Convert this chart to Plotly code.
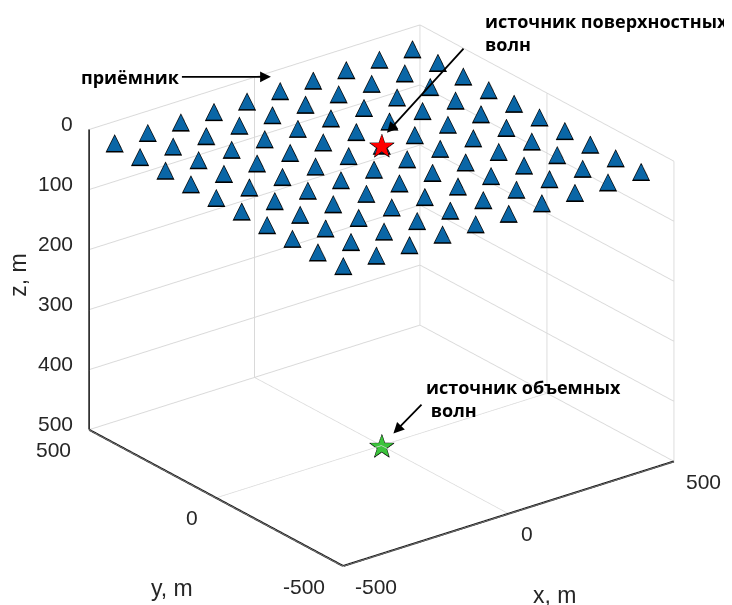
import plotly.graph_objects as go

# receiver grid node coordinates (m)
receiver_x_nodes = [-500, -400, -300, -200, -100, 0, 100, 200, 300, 400]
receiver_y_nodes = [-500, -400, -300, -200, -100, 0, 100, 200, 300, 400]
receiver_depth = 0

surface_source = [0, 0, 0]      # x, y, z
body_source = [0, 0, 500]       # x, y, z

x_range = [-500, 500]
y_range = [-500, 500]
z_range = [0, 500]
x_ticks = [-500, 0, 500]
y_ticks = [-500, 0, 500]
z_ticks = [0, 100, 200, 300, 400, 500]
x_tick_labels = ["-500", "0", "500"]
y_tick_labels = ["-500", "0", "500"]
z_tick_labels = ["0", "100", "200", "300", "400", "500"]

rx = [x for y in receiver_y_nodes for x in receiver_x_nodes]
ry = [y for y in receiver_y_nodes for x in receiver_x_nodes]
rz = [receiver_depth] * len(rx)

fig = go.Figure()

AXC = "#262626"

# axis spines (x, y along the bottom front edges; z on the left edge)
fig.add_trace(go.Scatter3d(
    x=[x_range[0], x_range[1], None, x_range[0], x_range[0], None, x_range[0], x_range[0]],
    y=[y_range[0], y_range[0], None, y_range[0], y_range[1], None, y_range[1], y_range[1]],
    z=[z_range[1], z_range[1], None, z_range[1], z_range[1], None, z_range[0], z_range[1]],
    mode="lines", line=dict(color="#1a1a1a", width=4), hoverinfo="skip", showlegend=False))


def glyph_trace(xs, ys, zs, ch, size, color):
    return go.Scatter3d(
        x=xs, y=ys, z=zs, mode="text", text=[ch] * len(xs),
        textposition="middle center",
        textfont=dict(family="DejaVu Sans", size=size, color=color),
        hoverinfo="skip", showlegend=False)


fig.add_trace(glyph_trace(rx, ry, rz, "▲", 24, "black"))
fig.add_trace(glyph_trace(rx, ry, rz, "▲", 20, "#0a66a6"))
fig.add_trace(glyph_trace([surface_source[0]], [surface_source[1]], [surface_source[2]], "★", 34, "black"))
fig.add_trace(glyph_trace([surface_source[0]], [surface_source[1]], [surface_source[2]], "★", 30, "#ff0000"))
fig.add_trace(glyph_trace([body_source[0]], [body_source[1]], [body_source[2]], "★", 34, "black"))
fig.add_trace(glyph_trace([body_source[0]], [body_source[1]], [body_source[2]], "★", 30, "#3cc43c"))

axis_common = dict(
    showbackground=False, gridcolor="#d9d9d9", gridwidth=2,
    showline=False, showticklabels=False,
    ticks="", zeroline=False, showspikes=False,
    title=dict(text=""),
)

ann_font = dict(family="Open Sans", size=18, color="black")
tick_font = dict(family="Liberation Sans", size=21, color=AXC)
title_font = dict(family="Liberation Sans", size=23, color=AXC)
arrow_style = dict(showarrow=True, arrowhead=2, arrowsize=1.2, arrowwidth=1.8, arrowcolor="black")

scene_ann = [
    # receiver label
    dict(x=0, y=400, z=0, text="<b>приёмник</b>", font=ann_font,
         ax=-149, ay=0, standoff=9, yshift=14, **arrow_style),
    # surface-wave source
    dict(x=surface_source[0], y=surface_source[1], z=surface_source[2],
         text="<b>источник поверхностных<br>волн</b>", font=ann_font, align="left",
         xanchor="left", yanchor="middle", showarrow=False, xshift=101, yshift=113),
    dict(x=surface_source[0], y=surface_source[1], z=surface_source[2],
         text=" ", ax=91, ay=-100, standoff=17, xshift=-6, **arrow_style),
    # body-wave source
    dict(x=body_source[0], y=body_source[1], z=body_source[2],
         text="<b>источник объемных<br>&nbsp;волн</b>", font=ann_font, align="left",
         xanchor="left", yanchor="middle", showarrow=False, xshift=42, yshift=47),
    dict(x=body_source[0], y=body_source[1], z=body_source[2],
         text=" ", ax=43, ay=-44, standoff=17, **arrow_style),
    # axis titles
    dict(x=x_range[0], y=y_range[1], z=(z_range[0] + z_range[1]) / 2, text="z, m",
         textangle=-90, font=title_font, showarrow=False, xshift=-71, yshift=4),
    dict(x=x_range[0], y=(y_range[0] + y_range[1]) / 2, z=z_range[1], text="y, m",
         font=title_font, showarrow=False, xshift=-44, yshift=-90),
    dict(x=(x_range[0] + x_range[1]) / 2, y=y_range[0], z=z_range[1], text="x, m",
         font=title_font, showarrow=False, xshift=46, yshift=-81),
]
# tick labels
for v, t in zip(z_ticks, z_tick_labels):
    scene_ann.append(dict(x=x_range[0], y=y_range[1], z=v, text=t, font=tick_font,
                          showarrow=False, xanchor="right", xshift=-14, yshift=6))
for v, t in zip(y_ticks, y_tick_labels):
    scene_ann.append(dict(x=x_range[0], y=v, z=z_range[1], text=t, font=tick_font,
                          showarrow=False, xanchor="right", xshift=-16, yshift=-20))
for v, t in zip(x_ticks, x_tick_labels):
    scene_ann.append(dict(x=v, y=y_range[0], z=z_range[1], text=t, font=tick_font,
                          showarrow=False, xanchor="left", xshift=10, yshift=-20))

cen = dict(x=-0.0322, y=-0.0011, z=-0.0453)
view = (-0.555, -0.723, 0.412)

fig.update_layout(
    width=732, height=605,
    paper_bgcolor="white",
    margin=dict(l=0, r=0, t=0, b=0),
    scene=dict(
        domain=dict(x=[0, 1], y=[0, 1]),
        xaxis=dict(axis_common, range=x_range, tickvals=x_ticks),
        yaxis=dict(axis_common, range=y_range, tickvals=y_ticks),
        zaxis=dict(axis_common, range=[z_range[1], z_range[0]], tickvals=z_ticks),
        aspectmode="manual", aspectratio=dict(x=1.379, y=1.379, z=1.089),
        camera=dict(
            projection=dict(type="orthographic"),
            eye=dict(x=cen["x"] + view[0] * 2, y=cen["y"] + view[1] * 2, z=cen["z"] + view[2] * 2),
            up=dict(x=0, y=0, z=1),
            center=cen,
        ),
        annotations=scene_ann,
    ),
)

fig.write_html("out.html")
